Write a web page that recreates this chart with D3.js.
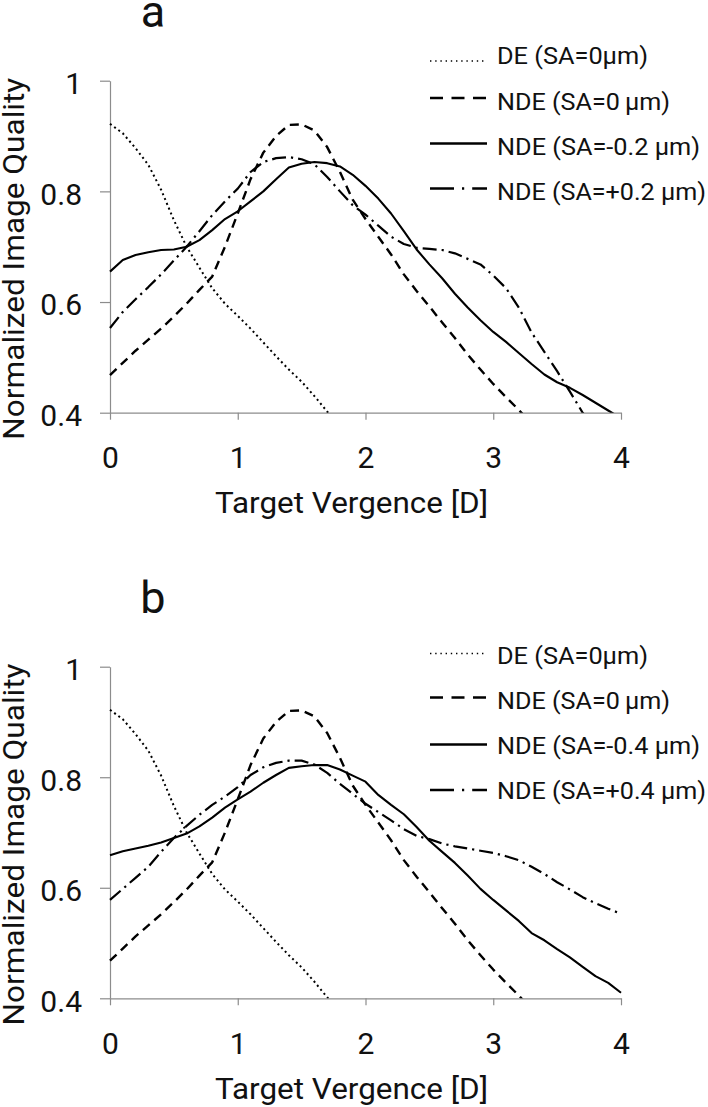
<!DOCTYPE html>
<html><head><meta charset="utf-8">
<script src="https://cdn.jsdelivr.net/npm/d3@7"></script>
<style>
html,body{margin:0;padding:0;background:#fff;}
svg{display:block;}
text{font-family:Roboto,"Liberation Sans",sans-serif;fill:#111;}
</style></head><body>
<svg id="chart" width="708" height="1107"></svg>
<script>
// ---- data ----
const vergence = [0,0.1,0.2,0.3,0.4,0.5,0.6,0.7,0.8,0.9,1.0,1.1,1.2,1.3,1.4,1.5,1.6,1.7,1.8,1.9,2.0,
                  2.1,2.2,2.3,2.4,2.5,2.6,2.7,2.8,2.9,3.0,3.1,3.2,3.3,3.4,3.5,3.6,3.7,3.8,3.9,4.0];
const xTicks = [0,1,2,3,4];
const yTicks = [0.4,0.6,0.8,1];

// DE (SA=0um) – same in both panels
const deSA0 = [0.922,0.905,0.878,0.848,0.803,0.748,0.700,0.662,0.625,0.597,0.575,0.552,0.527,0.502,0.478,0.456,0.430,0.402,0.375];
// NDE (SA=0um) – same in both panels
const ndeSA0 = [0.468,0.490,0.512,0.532,0.552,0.574,0.597,0.622,0.646,0.700,0.760,0.822,0.870,0.900,0.920,0.921,0.910,0.880,0.835,0.785,0.750,
                0.718,0.686,0.650,0.620,0.592,0.563,0.535,0.505,0.478,0.452,0.428,0.405,0.380];
// panel a
const ndeSAm02 = [0.655,0.676,0.685,0.690,0.694,0.695,0.700,0.712,0.730,0.750,0.764,0.782,0.800,0.822,0.843,0.850,0.853,0.851,0.845,0.830,0.810,
                  0.787,0.760,0.728,0.695,0.668,0.643,0.615,0.590,0.567,0.546,0.528,0.508,0.488,0.469,0.455,0.445,0.432,0.418,0.404,0.390];
const ndeSAp02 = [0.553,0.582,0.605,0.627,0.650,0.675,0.700,0.728,0.757,0.782,0.805,0.835,0.853,0.860,0.862,0.858,0.849,0.826,0.800,0.775,0.758,
                  0.738,0.718,0.705,0.698,0.696,0.694,0.688,0.678,0.668,0.648,0.625,0.590,0.545,0.510,0.475,0.438,0.400,0.370];
// panel b
const ndeSAm04 = [0.659,0.666,0.671,0.676,0.682,0.690,0.698,0.711,0.727,0.745,0.760,0.774,0.790,0.804,0.817,0.820,0.822,0.822,0.814,0.803,0.792,
                  0.768,0.750,0.733,0.710,0.685,0.665,0.645,0.622,0.598,0.578,0.559,0.540,0.518,0.505,0.489,0.474,0.457,0.440,0.428,0.410];
const ndeSAp04 = [0.578,0.598,0.618,0.638,0.665,0.690,0.712,0.732,0.750,0.765,0.782,0.804,0.818,0.826,0.830,0.830,0.823,0.808,0.788,0.770,0.752,
                  0.737,0.722,0.706,0.694,0.688,0.680,0.675,0.671,0.667,0.663,0.657,0.650,0.638,0.625,0.610,0.597,0.583,0.572,0.562,0.553];

const legendA = ["DE (SA=0\u03bcm)","NDE (SA=0\u2009\u03bcm)","NDE (SA=-0.2 \u03bcm)","NDE (SA=+0.2 \u03bcm)"];
const legendB = ["DE (SA=0\u03bcm)","NDE (SA=0\u2009\u03bcm)","NDE (SA=-0.4 \u03bcm)","NDE (SA=+0.4 \u03bcm)"];
const panelTitles = ["a","b"];
const xTitle = "Target Vergence [D]";
const yTitle = "Normalized Image Quality";

// ---- layout / styles ----
const svg = d3.select("#chart");
const X0 = 110, X1 = 621;
const styles = [
  {dash:"2,3.2", w:2.0, legDash:"1.4,3.8", legW:1.6},
  {dash:"9,6", w:2.4, legDash:"13,8.5", legW:2.4},
  {dash:null, w:2.1, legDash:null, legW:2.4},
  {dash:"14,5,2.2,5", w:2.2, legDash:"24,8,2.2,8", legW:2.4}
];
const legendTextW = [[151,173,203,209],[151,173,203,209]];
const panels = [
  {title:panelTitles[0], top:80.7, bot:412.7, series:[deSA0,ndeSA0,ndeSAm02,ndeSAp02], labels:legendA,
   legBase:[63.5,110,155,200], legLine:[61,98,143.5,188.5]},
  {title:panelTitles[1], top:666.7, bot:998.3, series:[deSA0,ndeSA0,ndeSAm04,ndeSAp04], labels:legendB,
   legBase:[663.5,708.5,753.5,798.5], legLine:[653.5,697.5,744.5,790]}
];

const x = d3.scaleLinear().domain([0,4]).range([X0,X1]);
const axisColor = "#8c8c8c";

panels.forEach((p,pi)=>{
  const y = d3.scaleLinear().domain([0.4,1]).range([p.bot,p.top]);
  const g = svg.append("g");

  // title
  g.append("text").attr("x",153).attr("y",p.top-53.5).attr("text-anchor","middle")
    .style("font-size","45px").text(p.title);

  // axes
  const ya = g.append("g").attr("transform",`translate(${X0},0)`)
    .call(d3.axisLeft(y).tickValues(yTicks).tickSize(10).tickSizeOuter(0).tickPadding(18)
      .tickFormat(d=> d===1 ? "1" : d3.format(".1f")(d)));
  const xa = g.append("g").attr("transform",`translate(0,${p.bot})`)
    .call(d3.axisBottom(x).tickValues(xTicks).tickSize(7).tickSizeOuter(0).tickPadding(27)
      .tickFormat(d3.format("d")));
  [ya,xa].forEach(a=>{
    a.selectAll("path,line").attr("stroke",axisColor).attr("stroke-width",1.2);
    a.selectAll("text").style("font-size","30px").attr("fill","#111").style("font-family","Roboto,sans-serif");
  });
  ya.selectAll("text").attr("dy","0.43em");

  // axis titles
  g.append("text").attr("x",(X0+X1)/2 - 14).attr("y",p.bot+100.5).attr("text-anchor","middle")
    .style("font-size","30px").attr("textLength",273).attr("lengthAdjust","spacingAndGlyphs").text(xTitle);
  g.append("text").attr("transform",`translate(24,${(p.top+p.bot)/2+12}) rotate(-90)`)
    .attr("text-anchor","middle").style("font-size","30px")
    .attr("textLength",362).attr("lengthAdjust","spacingAndGlyphs").text(yTitle);

  // clip
  const cid = "clip"+pi;
  svg.append("clipPath").attr("id",cid).append("rect")
    .attr("x",X0-2).attr("y",p.top-20).attr("width",X1-X0+10).attr("height",p.bot-p.top+20);

  const line = d3.line().x((d,i)=>x(vergence[i])).y(d=>y(d)).curve(d3.curveLinear);
  p.series.forEach((s,si)=>{
    const st = styles[si];
    g.append("path").attr("clip-path",`url(#${cid})`).datum(s).attr("d",line)
      .attr("fill","none").attr("stroke","#000").attr("stroke-width",st.w)
      .attr("stroke-dasharray",st.dash).attr("stroke-linejoin","round");
  });

  // legend
  p.labels.forEach((lab,li)=>{
    const st = styles[li];
    g.append("line").attr("x1",430).attr("x2",487).attr("y1",p.legLine[li]).attr("y2",p.legLine[li])
      .attr("stroke","#000").attr("stroke-width",st.legW).attr("stroke-dasharray",st.legDash);
    g.append("text").attr("x",497).attr("y",p.legBase[li]).style("font-size","24.5px")
      .attr("textLength",legendTextW[pi][li]).attr("lengthAdjust","spacingAndGlyphs").text(lab);
  });
});
</script>
</body></html>
